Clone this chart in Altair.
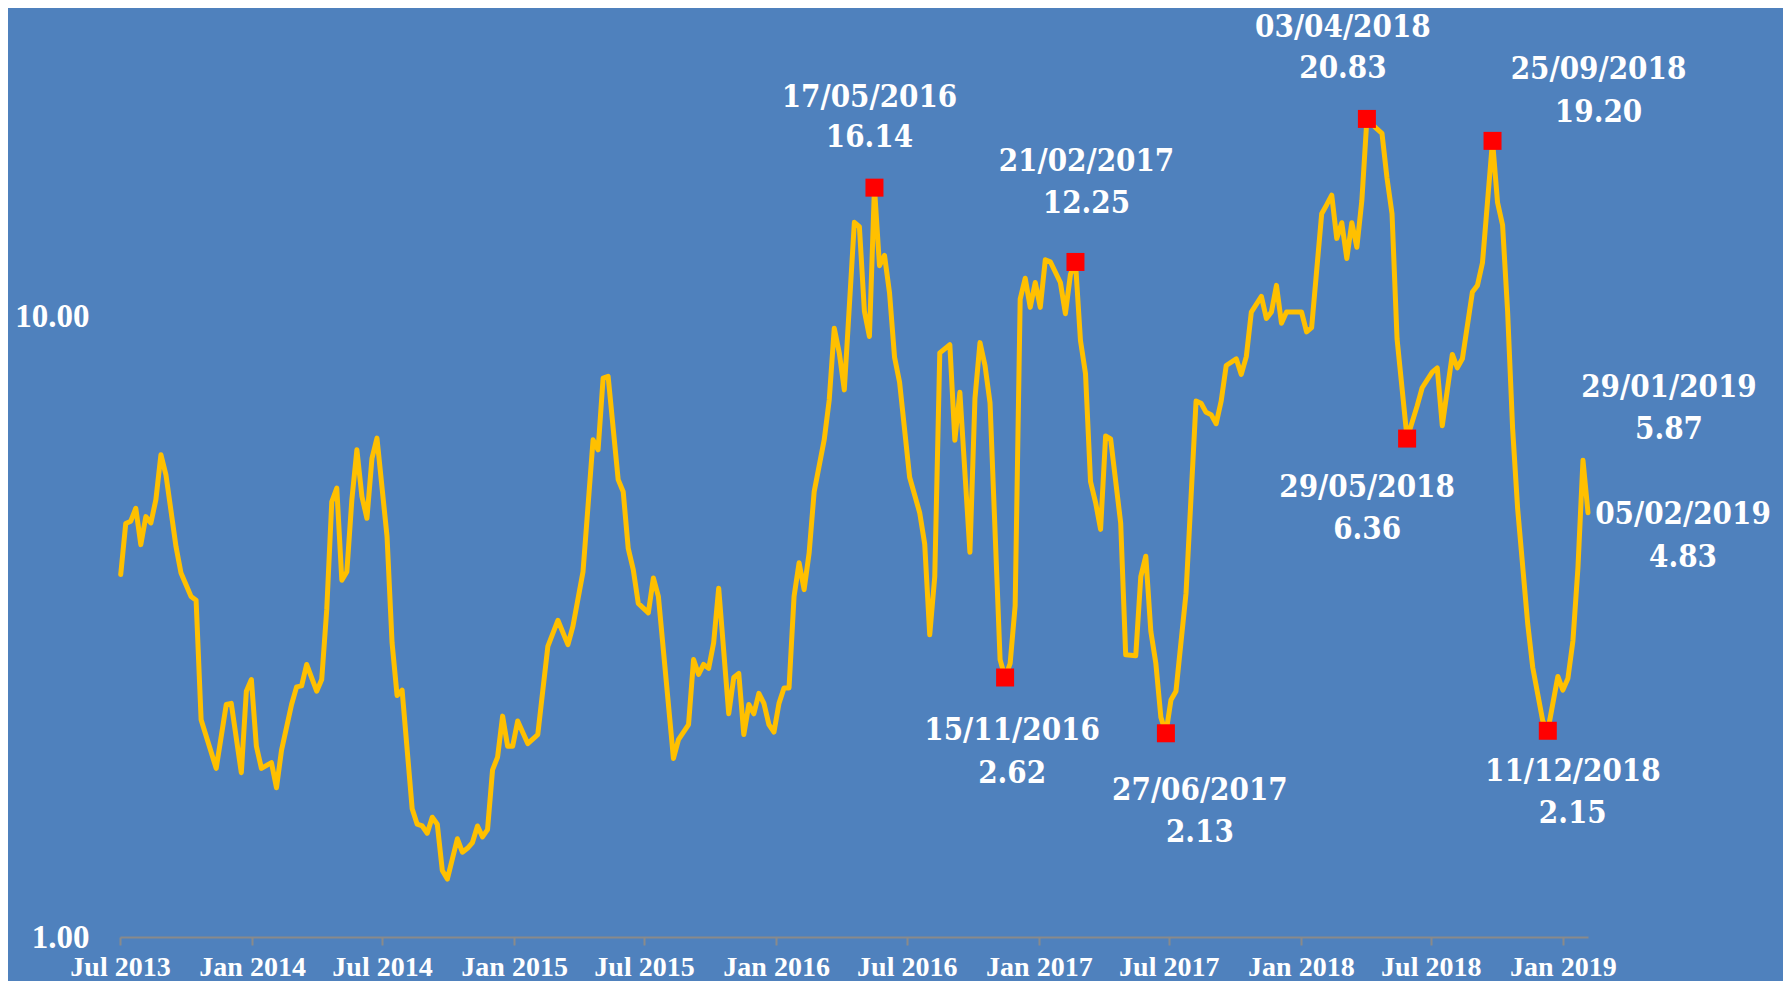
import altair as alt
import pandas as pd

# ---- data (weekly series, week index from 2013-07-02) ----
week = [0, 1, 2, 3, 4, 5, 6, 7, 8, 9, 11, 12, 14, 15, 16, 19, 21, 22, 24, 25, 26, 27, 28, 30, 31, 32,
        34, 35, 36, 37, 39, 40, 41, 42, 43, 44, 45, 46, 47, 48, 49, 50, 51, 53, 54, 55, 56, 58, 59, 60,
        61, 62, 63, 64, 65, 67, 68, 69, 70, 71, 72, 73, 74, 75, 76, 77, 78, 79, 81, 83, 85, 87, 89, 90,
        92, 94, 95, 96, 97, 99, 100, 101, 102, 103, 105, 106, 107, 110, 111, 113, 114, 115, 116, 117,
        118, 119, 121, 122, 123, 124, 125, 126, 127, 128, 129, 130, 131, 132, 133, 134, 135, 136, 137,
        138, 140, 141, 142, 143, 144, 146, 147, 148, 149, 150, 151, 152, 153, 154, 155, 157, 159, 160,
        161, 162, 163, 165, 166, 167, 169, 170, 171, 172, 173, 175, 176, 177, 178, 179, 180, 181, 182,
        183, 184, 185, 187, 188, 189, 190, 191, 192, 193, 194, 195, 196, 197, 199, 200, 202, 203, 204,
        205, 206, 207, 208, 209, 210, 212, 214, 215, 216, 217, 218, 219, 220, 222, 223, 224, 225, 227,
        228, 229, 230, 231, 232, 235, 236, 237, 239, 240, 241, 242, 243, 244, 245, 246, 247, 248, 250,
        251, 252, 253, 254, 256, 258, 259, 261, 262, 263, 265, 266, 267, 269, 270, 271, 273, 274, 275,
        276, 277, 278, 280, 281, 283, 284, 286, 287, 288, 289, 290, 291, 292]

value = [3.84, 4.64, 4.68, 4.91, 4.29, 4.76, 4.65, 5.07, 5.99, 5.56, 4.26, 3.86, 3.54, 3.49, 2.24, 1.87,
         2.37, 2.38, 1.84, 2.49, 2.60, 2.03, 1.87, 1.91, 1.74, 2.00,
         2.37, 2.53, 2.54, 2.75, 2.49, 2.60, 3.37, 5.03, 5.29, 3.76, 3.88, 5.07, 6.10, 5.13, 4.73, 5.91,
         6.37, 4.42, 2.98, 2.45, 2.50, 1.61, 1.52, 1.51,
         1.47, 1.56, 1.52, 1.28, 1.24, 1.44, 1.37, 1.39, 1.42, 1.51, 1.45, 1.49, 1.86, 1.95, 2.27, 2.03,
         2.03, 2.23, 2.05, 2.12, 2.94, 3.24, 2.96, 3.17,
         3.88, 6.33, 6.10, 7.96, 8.01, 5.46, 5.22, 4.23, 3.91, 3.45, 3.33, 3.79, 3.54, 1.94, 2.08, 2.20,
         2.80, 2.65, 2.75, 2.71,
         2.98, 3.65, 2.29, 2.62, 2.66, 2.12, 2.37, 2.29, 2.47, 2.38, 2.20, 2.14, 2.38, 2.52, 2.52, 3.54,
         4.01, 3.63, 4.16,
         5.22, 6.33, 7.34, 9.58, 8.74, 7.62, 14.19, 13.97, 10.20, 9.29, 16.14, 12.08, 12.55, 10.92, 8.60,
         7.84, 5.51, 4.83, 4.30,
         3.07, 3.81, 8.74, 9.01, 6.32, 7.55, 4.17, 7.38, 9.08, 8.34, 7.26, 2.80, 2.62, 2.76, 3.42, 10.67,
         11.53, 10.35, 11.35,
         10.35, 12.35, 12.26, 11.35, 10.11, 11.70, 12.25, 9.15, 8.09, 5.42, 5.02, 4.54, 6.42, 6.35, 4.65,
         2.85, 2.84, 3.81, 4.11,
         3.11, 2.76, 2.26, 2.13, 2.41, 2.49, 3.58, 7.31, 7.25, 7.01, 6.95, 6.72, 7.31, 8.34, 8.55, 8.07,
         8.62, 10.17, 10.78,
         9.93, 10.17, 11.23, 9.76, 10.17, 10.17, 9.45, 9.60, 14.65, 15.15, 15.70, 13.37, 14.17, 12.41,
         14.17, 12.94, 15.40, 20.83, 20.07,
         19.74, 16.73, 14.65, 9.21, 6.36, 7.18, 7.68, 8.14, 8.27, 6.67, 8.69, 8.27, 8.55, 10.96, 11.23,
         12.21, 19.20, 15.27, 14.05,
         10.20, 6.60, 4.90, 3.20, 2.72, 2.23, 2.15, 2.63, 2.50, 2.61, 3.00, 3.94, 5.87, 4.83]

ann_date = ["2016-05-17", "2017-02-21", "2018-04-03", "2018-09-25", "2016-11-15",
            "2017-06-27", "2018-05-29", "2018-12-11", "2019-01-29", "2019-02-05"]
ann_value = [16.14, 12.25, 20.83, 19.20, 2.62, 2.13, 6.36, 2.15, 5.87, 4.83]
ann_marker = [True, True, True, True, True, True, True, True, False, False]

x_tick_dates = [(2013, 7), (2014, 1), (2014, 7), (2015, 1), (2015, 7), (2016, 1), (2016, 7),
                (2017, 1), (2017, 7), (2018, 1), (2018, 7), (2019, 1)]
y_tick_values = [1, 10]

# ---- label placement (style) ----
lab_dx = [-5, 11, -24, 106, 7, 34, -40, 25, 86, 95]
lab_dy1 = [-90, -100, -91, -71, 54, 58, 49, 41, -72, 2]
lab_dy2 = [-50, -58, -50, -28, 97, 100, 91, 83, -30, 45]

AXIS_FONT = "Liberation Serif"
ANN_FONT = "DejaVu Serif Condensed, Liberation Serif"
BG = "#4F81BD"

start = pd.Timestamp("2013-07-02")
df = pd.DataFrame({
    "date": [(start + pd.Timedelta(days=7 * w)).strftime("%Y-%m-%d") for w in week],
    "value": value,
})

PLOT_W = 1468
PLOT_H = 929
Y_TOP = 31.44

x_scale = alt.Scale(type="utc",
                    domain=[alt.DateTime(year=2013, month=7, date=1, utc=True),
                            alt.DateTime(year=2019, month=2, date=5, utc=True)])
y_scale = alt.Scale(type="log", domain=[1, Y_TOP], nice=False)

x_axis = alt.Axis(values=[alt.DateTime(year=y, month=m, date=1, utc=True) for y, m in x_tick_dates],
                  labelExpr="utcFormat(datum.value, '%b %Y')", title=None, grid=False,
                  labelFont=AXIS_FONT, labelFontWeight="bold", labelFontSize=28, labelColor="white",
                  labelFlush=False, labelOverlap=False, labelBound=False,
                  labelBaseline="middle", labelPadding=22,
                  domainColor="#8a8a8a", domainWidth=2, tickColor="#8a8a8a", tickWidth=2, tickSize=8)
y_axis = alt.Axis(values=y_tick_values, format=".2f", title=None, grid=False, domain=False,
                  ticks=False, tickSize=0, labelFont=AXIS_FONT, labelFontWeight="bold", labelFontSize=33,
                  labelColor="white", labelPadding=31, labelFlush=False, labelBaseline="middle")

base = alt.Chart(df).encode(
    x=alt.X("date:T", scale=x_scale, axis=x_axis),
    y=alt.Y("value:Q", scale=y_scale, axis=y_axis),
)

line = base.mark_line(color="#FFC000", strokeWidth=5, strokeJoin="round", strokeCap="round")

mk = pd.DataFrame({"date": [d for d, m in zip(ann_date, ann_marker) if m],
                   "value": [v for v, m in zip(ann_value, ann_marker) if m]})
markers = alt.Chart(mk).mark_square(size=324, color="#FF0000", opacity=1, filled=True).encode(
    x="date:T", y="value:Q")

layers = [line, markers]
for d, v, dx, dy1, dy2 in zip(ann_date, ann_value, lab_dx, lab_dy1, lab_dy2):
    txt_date = pd.Timestamp(d).strftime("%d/%m/%Y")
    txt_val = f"{v:.2f}"
    for t, dy in ((txt_date, dy1), (txt_val, dy2)):
        row = pd.DataFrame({"date": [d], "value": [v], "label": [t]})
        layers.append(
            alt.Chart(row).mark_text(font=ANN_FONT, fontWeight="bold", fontSize=31, color="white",
                                     align="center", baseline="middle", dx=dx, dy=dy).encode(
                x="date:T", y="value:Q", text="label:N")
        )

chart = alt.layer(*layers).properties(
    width=PLOT_W, height=PLOT_H, background=BG,
    padding={"left": 112, "top": 0, "right": 195, "bottom": 44},
    autosize=alt.AutoSizeParams(type="none"),
).configure_view(stroke=None)

chart.save("out.html", embed_options={"renderer": "svg", "actions": False})
